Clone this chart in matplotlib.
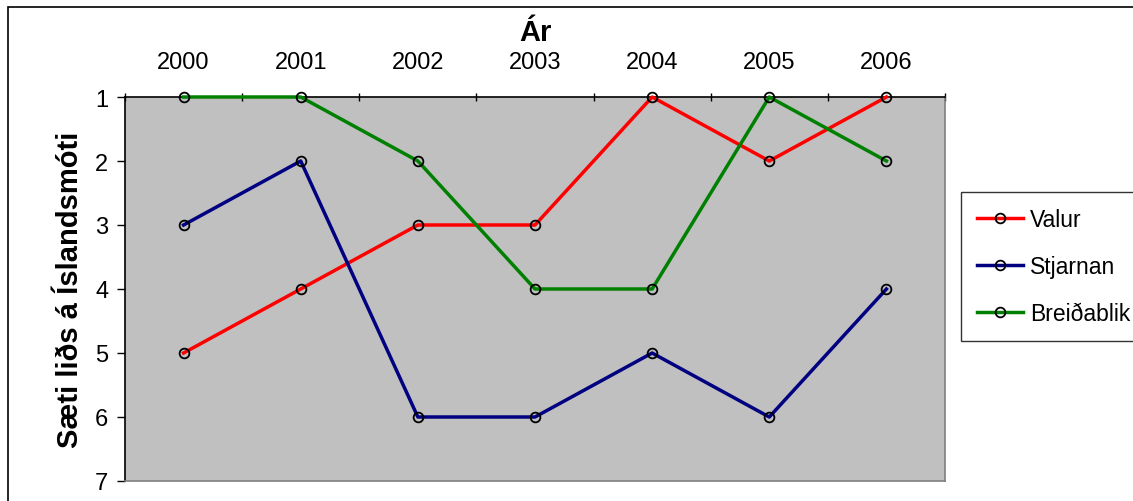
import matplotlib
matplotlib.use("Agg")
import matplotlib.pyplot as plt
from matplotlib.patches import Rectangle

years = ["2000", "2001", "2002", "2003", "2004", "2005", "2006"]
valur = [5, 4, 3, 3, 1, 2, 1]
stjarnan = [3, 2, 6, 6, 5, 6, 4]
breidablik = [1, 1, 2, 4, 4, 1, 2]
series_names = ["Valur", "Stjarnan", "Breiðablik"]
series_colors = ["#FF0000", "#000080", "#008000"]

plt.rcParams['font.family'] = ['Liberation Sans', 'DejaVu Sans']

W, H = 1133, 502
fig = plt.figure(figsize=(W / 100, H / 100), dpi=100)
fig.patch.set_facecolor("white")

# outer chart border (clipped at right and bottom)
fig.patches.append(Rectangle((8 / W, -0.1), 1.2, (1 - 8 / H) + 0.1,
                             transform=fig.transFigure, fill=False,
                             edgecolor="black", linewidth=1.2))

left, right, top, bottom = 125, 945, 98, 482
ax = fig.add_axes([left / W, 1 - bottom / H, (right - left) / W, (bottom - top) / H])
ax.set_facecolor("#C0C0C0")

x = list(range(len(years)))
for vals, name, col in zip([valur, stjarnan, breidablik], series_names, series_colors):
    ax.plot(x, vals, color=col, linewidth=2.5, marker="o", markersize=7,
            markerfacecolor="none", markeredgecolor="black", markeredgewidth=1.3,
            label=name, clip_on=False, zorder=3)

ax.set_xlim(-0.5, len(years) - 0.5)
ax.set_ylim(7, 1)
ax.set_yticks(range(1, 8))
ax.tick_params(axis="y", labelsize=17, length=6, direction="out", width=1, pad=6)

ax.xaxis.tick_top()
ax.set_xticks([i - 0.5 for i in range(len(years) + 1)])
ax.set_xticklabels([])
ax.set_xticks(x, minor=True)
ax.set_xticklabels(years, minor=True)
ax.tick_params(axis="x", which="major", length=6, direction="inout", width=1, top=True, bottom=False)
ax.tick_params(axis="x", which="minor", length=0, labelsize=17, pad=17, top=True, bottom=False)

ax.spines["top"].set_color("black")
ax.spines["left"].set_color("black")
ax.spines["right"].set_color("#808080")
ax.spines["bottom"].set_color("#808080")
for s in ax.spines.values():
    s.set_linewidth(1.2)

fig.text(535 / W, 1 - 33 / H, "Ár", ha="center", va="center", fontsize=21, fontweight="bold")
fig.text(70 / W, 1 - 290 / H, "Sæti liðs á Íslandsmóti", ha="center", va="center",
         rotation=90, fontsize=21, fontweight="bold")

leg = fig.legend(loc="upper left", bbox_to_anchor=(961 / W, 1 - 193 / H),
                 fontsize=16.5, frameon=True, fancybox=False, edgecolor="black",
                 handlelength=2.0, handletextpad=0.3, labelspacing=1.05,
                 borderpad=0.7, borderaxespad=0)
leg.get_frame().set_linewidth(1.0)

fig.savefig("out.png", dpi=100)
